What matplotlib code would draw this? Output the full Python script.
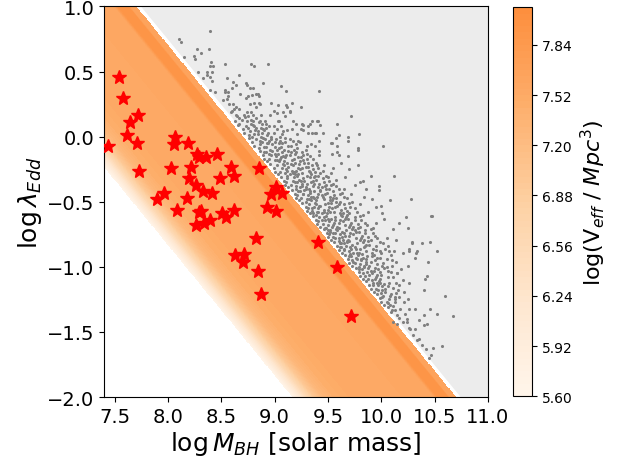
import numpy as np
import matplotlib
matplotlib.use("Agg")
import matplotlib.pyplot as plt
from matplotlib.colors import ListedColormap

# profile of log V_eff along log M_BH + log lambda_Edd
s_prof = [7.17, 7.24, 7.31, 7.38, 7.46, 7.56, 7.70, 8.20, 8.50, 8.53, 8.62, 8.635, 8.70]
v_prof = [5.62, 6.10, 6.60, 7.00, 7.30, 7.45, 7.52, 7.56, 7.60, 7.92, 7.96, 7.66, 7.64]
gray_edge = 8.745

cbar_ticks = [5.60, 5.92, 6.24, 6.56, 6.88, 7.20, 7.52, 7.84]

# red stars
star_m = [7.44, 7.54, 7.58, 7.72, 7.64, 7.62, 7.71, 7.73, 8.07, 8.06, 8.19, 8.27, 8.29, 8.36,
          8.46, 8.03, 8.22, 8.20, 8.26, 8.49, 8.59, 8.62, 8.85, 8.33, 8.41, 7.96, 7.90, 8.18,
          8.08, 8.29, 8.31, 8.51, 8.54, 8.62, 8.26, 8.34, 8.39, 8.93, 9.01, 8.97, 9.01, 9.07,
          8.83, 8.63, 8.71, 8.70, 8.84, 8.87, 9.41, 9.59, 9.72]
star_l = [-0.07, 0.46, 0.30, 0.17, 0.11, 0.01, -0.05, -0.26, 0.00, -0.06, -0.05, -0.13, -0.16, -0.16,
          -0.13, -0.24, -0.23, -0.32, -0.37, -0.32, -0.23, -0.30, -0.24, -0.42, -0.43, -0.43, -0.48, -0.47,
          -0.56, -0.58, -0.57, -0.59, -0.62, -0.56, -0.68, -0.66, -0.64, -0.54, -0.57, -0.44, -0.39, -0.43,
          -0.78, -0.91, -0.90, -0.96, -1.03, -1.21, -0.81, -1.00, -1.38]

# gray catalogue points (log M_BH, log lambda)
field_sparse = [
    (8.39, 0.81), (8.10, 0.75), (8.12, 0.73), (8.27, 0.67), (8.38, 0.67), (8.31, 0.64), (8.24, 0.62),
    (8.15, 0.61), (8.25, 0.60), (8.40, 0.57), (8.39, 0.54), (8.42, 0.54), (8.41, 0.50), (8.37, 0.50),
    (8.53, 0.56), (8.78, 0.56), (8.81, 0.54), (8.94, 0.56), (8.28, 0.50), (8.37, 0.47), (8.39, 0.46),
    (8.33, 0.45), (8.41, 0.43), (8.55, 0.45), (8.67, 0.47), (8.61, 0.42), (8.64, 0.40), (8.74, 0.40),
    (8.39, 0.36), (8.44, 0.34), (8.53, 0.36), (8.56, 0.34), (8.60, 0.37), (8.80, 0.37), (8.84, 0.33),
    (8.68, 0.33), (8.73, 0.30), (8.55, 0.29), (8.73, 0.41), (8.89, 0.41), (9.06, 0.39), (8.77, 0.37),
    (8.79, 0.32), (8.83, 0.33), (8.81, 0.26), (8.85, 0.26), (8.97, 0.26), (9.03, 0.24), (9.11, 0.24),
    (9.16, 0.26), (9.25, 0.23), (9.42, 0.35), (9.11, 0.35), (9.14, 0.19), (9.08, 0.19), (8.99, 0.20),
    (8.96, 0.17), (8.87, 0.17), (8.78, 0.19), (8.75, 0.16), (8.80, 0.12), (8.85, 0.11), (8.91, 0.12),
    (9.04, 0.12), (9.06, 0.08), (9.17, 0.12), (9.20, 0.10), (9.26, 0.10), (9.33, 0.10), (9.35, 0.12),
    (9.41, 0.12), (9.59, 0.10), (9.72, 0.16), (9.40, 0.12), (9.43, 0.09), (9.27, 0.09), (9.79, 0.02),
    (9.60, 0.01), (9.69, 0.00), (9.69, -0.03), (9.42, -0.03), (9.54, -0.05), (9.59, -0.07),
    (10.02, -0.07), (9.78, -0.10), (9.54, -0.13), (9.42, -0.14), (9.34, -0.06), (9.12, 0.23),
    (9.14, 0.20), (9.02, 0.18), (9.10, 0.16), (9.03, 0.12), (9.16, 0.06), (9.27, 0.05), (9.31, 0.08),
    (9.35, 0.03), (9.39, 0.03), (8.53, 0.34), (8.56, 0.31), (8.52, 0.28), (8.57, 0.25), (8.61, 0.25),
    (8.64, 0.23), (8.67, 0.21), (8.60, 0.20), (8.64, 0.17), (8.71, 0.17), (8.74, 0.19), (8.80, 0.17),
    (8.67, 0.14), (8.74, 0.12), (8.78, 0.10), (8.83, 0.07), (8.88, 0.10), (8.92, 0.07), (8.67, 0.10),
    (8.63, 0.12), (8.83, 0.23), (8.86, 0.25), (8.77, 0.25), (8.75, 0.31), (8.85, 0.31),
    (9.25, 0.06), (9.21, 0.02), (9.31, 0.03), (9.38, 0.03), (9.45, 0.03), (9.53, -0.05), (9.58, -0.01),
    (9.78, -0.09), (9.69, -0.15), (9.59, -0.12), (9.42, -0.11), (9.38, -0.07), (9.30, -0.07),
    (9.24, -0.04), (9.78, -0.22), (9.90, -0.30), (10.12, -0.30), (9.98, -0.38), (9.98, -0.41),
    (9.91, -0.48), (10.08, -0.49), (10.28, -0.48), (10.01, -0.59), (10.03, -0.63), (10.17, -0.66),
    (10.23, -0.62), (10.25, -0.70), (10.11, -0.71), (10.14, -0.79), (10.29, -0.81), (10.06, -0.84),
    (10.26, -0.86), (10.33, -0.89), (10.20, -0.89), (9.80, -0.35), (9.86, -0.40), (9.83, -0.34),
    (9.95, -0.54), (10.00, -0.53), (10.46, -0.81), (10.52, -0.88), (10.38, -0.82), (10.29, -0.82),
    (10.34, -0.88), (10.26, -0.88), (10.44, -0.96), (10.32, -0.93), (10.25, -0.99), (10.43, -1.07),
    (10.41, -1.09), (10.26, -1.12), (10.40, -1.18), (10.60, -1.22), (10.16, -1.18), (10.21, -1.27),
    (10.08, -1.29), (10.13, -1.23), (10.26, -1.32), (10.32, -1.32), (10.46, -1.32), (10.52, -1.36),
    (10.67, -1.38), (10.35, -1.41), (10.40, -1.37), (10.24, -1.42), (10.43, -1.44), (10.40, -1.45),
    (10.26, -1.47), (10.32, -1.48), (10.35, -1.55), (10.49, -1.62), (10.57, -1.61), (10.47, -1.68),
    (10.45, -1.70), (10.48, -0.61), (10.47, -0.61), (9.62, -0.20), (9.70, -0.25), (9.66, -0.31),
    (9.75, -0.37), (9.72, -0.44), (9.84, -0.46), (9.60, -0.14), (9.55, -0.24), (9.58, -0.33),
    (9.65, -0.40), (9.88, -0.58), (9.80, -0.52), (9.95, -0.66), (9.92, -0.74), (10.05, -0.78),
    (9.99, -0.88), (10.10, -0.95), (10.05, -1.00), (10.15, -1.05), (10.20, -1.10), (10.12, -0.88),
]

field_dense = [
    (8.66, 0.09), (8.70, 0.06), (8.73, 0.08), (8.77, 0.04), (8.80, 0.09), (8.84, 0.02), (8.87, 0.07),
    (8.90, 0.05), (8.93, 0.01), (8.95, 0.08), (8.99, 0.03), (9.02, 0.06), (8.76, 0.01), (8.82, 0.05),
    (9.07, 0.02), (8.79, 0.00), (8.88, 0.03), (9.12, 0.05), (8.71, 0.03), (8.97, 0.00),
    (8.76, -0.01), (8.79, -0.04), (8.83, -0.02), (8.86, -0.06), (8.89, -0.01), (8.92, -0.08),
    (8.95, -0.03), (8.98, -0.06), (9.01, -0.02), (9.04, -0.09), (9.07, -0.05), (9.10, -0.01),
    (9.13, -0.07), (9.17, -0.03), (8.85, -0.09), (8.81, -0.07), (8.94, -0.05), (9.00, -0.08),
    (9.20, -0.06), (8.88, -0.04), (9.05, -0.03), (8.91, -0.02),
    (8.86, -0.11), (8.89, -0.14), (8.92, -0.12), (8.95, -0.17), (8.98, -0.11), (9.01, -0.15),
    (9.04, -0.19), (9.07, -0.12), (9.10, -0.16), (9.13, -0.11), (9.16, -0.18), (9.19, -0.13),
    (9.22, -0.16), (9.26, -0.12), (8.93, -0.19), (8.97, -0.14), (9.03, -0.13), (9.09, -0.19),
    (9.14, -0.14), (9.00, -0.18), (9.30, -0.17), (8.90, -0.17), (9.06, -0.16), (9.18, -0.10),
    (9.24, -0.19),
    (8.96, -0.21), (8.99, -0.24), (9.02, -0.22), (9.05, -0.27), (9.08, -0.21), (9.11, -0.25),
    (9.14, -0.29), (9.17, -0.22), (9.20, -0.26), (9.23, -0.21), (9.26, -0.28), (9.29, -0.23),
    (9.32, -0.26), (9.35, -0.22), (9.03, -0.29), (9.07, -0.24), (9.13, -0.23), (9.19, -0.29),
    (9.24, -0.25), (9.10, -0.28), (9.38, -0.27), (9.00, -0.27), (9.16, -0.26), (9.28, -0.20),
    (9.34, -0.29), (9.41, -0.24),
    (9.06, -0.31), (9.09, -0.34), (9.12, -0.32), (9.15, -0.37), (9.18, -0.31), (9.21, -0.35),
    (9.24, -0.39), (9.27, -0.32), (9.30, -0.36), (9.33, -0.31), (9.36, -0.38), (9.39, -0.33),
    (9.42, -0.36), (9.45, -0.32), (9.13, -0.39), (9.17, -0.34), (9.23, -0.33), (9.29, -0.39),
    (9.34, -0.35), (9.20, -0.38), (9.48, -0.37), (9.10, -0.37), (9.26, -0.36), (9.38, -0.30),
    (9.44, -0.39), (9.51, -0.34), (9.11, -0.35),
    (9.16, -0.41), (9.19, -0.44), (9.22, -0.42), (9.25, -0.47), (9.28, -0.41), (9.31, -0.45),
    (9.34, -0.49), (9.37, -0.42), (9.40, -0.46), (9.43, -0.41), (9.46, -0.48), (9.49, -0.43),
    (9.52, -0.46), (9.55, -0.42), (9.23, -0.49), (9.27, -0.44), (9.33, -0.43), (9.39, -0.49),
    (9.44, -0.45), (9.30, -0.48), (9.58, -0.47), (9.20, -0.47), (9.36, -0.46), (9.48, -0.40),
    (9.54, -0.49), (9.61, -0.44), (9.21, -0.45), (9.41, -0.44),
    (9.26, -0.51), (9.29, -0.54), (9.32, -0.52), (9.35, -0.57), (9.38, -0.51), (9.41, -0.55),
    (9.44, -0.59), (9.47, -0.52), (9.50, -0.56), (9.53, -0.51), (9.56, -0.58), (9.59, -0.53),
    (9.62, -0.56), (9.65, -0.52), (9.33, -0.59), (9.37, -0.54), (9.43, -0.53), (9.49, -0.59),
    (9.54, -0.55), (9.40, -0.58), (9.68, -0.57), (9.30, -0.57), (9.46, -0.56), (9.58, -0.50),
    (9.64, -0.59), (9.71, -0.54), (9.31, -0.55), (9.51, -0.54),
    (9.36, -0.61), (9.39, -0.64), (9.42, -0.62), (9.45, -0.67), (9.48, -0.61), (9.51, -0.65),
    (9.54, -0.69), (9.57, -0.62), (9.60, -0.66), (9.63, -0.61), (9.66, -0.68), (9.69, -0.63),
    (9.72, -0.66), (9.75, -0.62), (9.43, -0.69), (9.47, -0.64), (9.53, -0.63), (9.59, -0.69),
    (9.64, -0.65), (9.50, -0.68), (9.78, -0.67), (9.40, -0.67), (9.56, -0.66), (9.68, -0.60),
    (9.74, -0.69), (9.81, -0.64), (9.41, -0.65), (9.61, -0.64),
    (9.46, -0.71), (9.49, -0.74), (9.52, -0.72), (9.55, -0.77), (9.58, -0.71), (9.61, -0.75),
    (9.64, -0.79), (9.67, -0.72), (9.70, -0.76), (9.73, -0.71), (9.76, -0.78), (9.79, -0.73),
    (9.82, -0.76), (9.85, -0.72), (9.53, -0.79), (9.57, -0.74), (9.63, -0.73), (9.69, -0.79),
    (9.74, -0.75), (9.60, -0.78), (9.88, -0.77), (9.50, -0.77), (9.66, -0.76), (9.78, -0.70),
    (9.84, -0.79), (9.51, -0.75), (9.71, -0.74),
    (9.56, -0.81), (9.59, -0.84), (9.62, -0.82), (9.65, -0.87), (9.68, -0.81), (9.71, -0.85),
    (9.74, -0.89), (9.77, -0.82), (9.80, -0.86), (9.83, -0.81), (9.86, -0.88), (9.89, -0.83),
    (9.92, -0.86), (9.63, -0.89), (9.67, -0.84), (9.73, -0.83), (9.79, -0.89), (9.84, -0.85),
    (9.70, -0.88), (9.95, -0.87), (9.60, -0.87), (9.76, -0.86), (9.88, -0.80), (9.61, -0.85),
    (9.66, -0.91), (9.69, -0.94), (9.72, -0.92), (9.75, -0.97), (9.78, -0.91), (9.81, -0.95),
    (9.84, -0.99), (9.87, -0.92), (9.90, -0.96), (9.93, -0.91), (9.96, -0.98), (9.99, -0.93),
    (9.73, -0.99), (9.77, -0.94), (9.83, -0.93), (9.89, -0.99), (9.94, -0.95), (9.80, -0.98),
    (10.02, -0.97), (9.70, -0.97), (9.86, -0.96),
    (9.76, -1.01), (9.79, -1.04), (9.82, -1.02), (9.85, -1.07), (9.88, -1.01), (9.91, -1.05),
    (9.94, -1.09), (9.97, -1.02), (10.00, -1.06), (10.03, -1.01), (10.06, -1.08), (9.83, -1.09),
    (9.87, -1.04), (9.93, -1.03), (9.99, -1.09), (9.80, -1.07), (9.96, -1.06), (10.09, -1.04),
    (9.86, -1.11), (9.89, -1.14), (9.92, -1.12), (9.95, -1.17), (9.98, -1.11), (10.01, -1.15),
    (10.04, -1.19), (10.07, -1.12), (10.11, -1.16), (9.93, -1.19), (9.97, -1.14), (10.03, -1.13),
    (9.90, -1.17), (10.14, -1.12),
    (9.96, -1.21), (9.99, -1.24), (10.02, -1.22), (10.05, -1.27), (10.09, -1.21), (10.13, -1.25),
    (10.03, -1.29), (10.17, -1.23), (10.00, -1.27),
    (10.06, -1.31), (10.09, -1.35), (10.13, -1.33), (10.17, -1.39), (10.11, -1.42), (10.22, -1.36),
    (10.15, -1.44),
]

# points hugging the selection line, where the catalogue is densest
field_edge = [
    (8.59, 0.19), (8.62, 0.21), (8.65, 0.16), (8.69, 0.13), (8.72, 0.15), (8.75, 0.07), (8.78, 0.13),
    (8.81, 0.02), (8.84, 0.04), (8.86, -0.03), (8.89, 0.06), (8.90, -0.08), (8.93, -0.05), (8.96, -0.10),
    (8.97, -0.02), (9.00, -0.13), (9.02, -0.10), (9.05, -0.17), (9.06, -0.08), (9.09, -0.22),
    (9.11, -0.14), (9.12, -0.26), (9.15, -0.21), (9.18, -0.27), (9.19, -0.35), (9.21, -0.30),
    (9.24, -0.42), (9.25, -0.34), (9.27, -0.44), (9.29, -0.40), (9.32, -0.48), (9.33, -0.42),
    (9.35, -0.55), (9.37, -0.47), (9.39, -0.60), (9.42, -0.53), (9.44, -0.64), (9.46, -0.58),
    (9.48, -0.70), (9.50, -0.63), (9.52, -0.73), (9.55, -0.68), (9.57, -0.78), (9.59, -0.72),
    (9.61, -0.82), (9.63, -0.77), (9.65, -0.86), (9.68, -0.80), (9.70, -0.92), (9.72, -0.86),
    (9.74, -0.96), (9.77, -0.89), (9.79, -1.00), (9.81, -0.94), (9.83, -1.05), (9.86, -0.98),
    (9.88, -1.09), (9.90, -1.03), (9.92, -1.14), (9.95, -1.08), (9.97, -1.18), (9.99, -1.12),
    (10.01, -1.23), (10.04, -1.17), (10.06, -1.28), (10.08, -1.22), (10.10, -1.33), (10.13, -1.27),
    (10.15, -1.37), (10.18, -1.32), (10.20, -1.42), (10.24, -1.40), (10.27, -1.48), (10.30, -1.52),
    (10.34, -1.56), (10.38, -1.60), (10.42, -1.63),
    (8.83, 0.14), (8.92, 0.10), (8.99, 0.08), (9.05, 0.00), (9.10, -0.04), (9.15, -0.07), (9.21, -0.09),
    (9.19, -0.20), (9.27, -0.14), (9.26, -0.24), (9.31, -0.20), (9.30, -0.30), (9.36, -0.25),
    (9.36, -0.34), (9.41, -0.30), (9.41, -0.39), (9.46, -0.35), (9.47, -0.44), (9.51, -0.40),
    (9.52, -0.49), (9.56, -0.45), (9.57, -0.54), (9.61, -0.50), (9.61, -0.59), (9.66, -0.55),
    (9.66, -0.63), (9.70, -0.59), (9.71, -0.68), (9.75, -0.64), (9.76, -0.73), (9.80, -0.69),
    (9.81, -0.78), (9.85, -0.74), (9.86, -0.83), (9.90, -0.79), (9.91, -0.89), (9.95, -0.84),
    (9.96, -0.93), (10.00, -0.89), (10.01, -0.99), (10.05, -0.94), (10.06, -1.03), (10.10, -0.99),
    (10.11, -1.08), (10.15, -1.05), (10.17, -1.14), (10.21, -1.19), (10.25, -1.25), (9.14, -0.02),
    (9.08, 0.04), (9.22, -0.03), (9.29, -0.10), (9.33, -0.15), (9.39, -0.20), (9.45, -0.26),
    (9.50, -0.31), (9.55, -0.36), (9.60, -0.40), (9.65, -0.46), (9.70, -0.51), (9.75, -0.55),
    (9.80, -0.61), (9.85, -0.66), (9.90, -0.71), (9.94, -0.76), (9.99, -0.81), (10.04, -0.86),
    (10.09, -0.91), (10.14, -0.96), (10.19, -1.02),
]

# extra points in the crowded core of the cloud
field_core = [
    (9.02, -0.18), (9.08, -0.15), (9.12, -0.20), (9.18, -0.17), (9.22, -0.24), (9.27, -0.18),
    (9.31, -0.23), (9.12, -0.30), (9.17, -0.28), (9.22, -0.29), (9.28, -0.34), (9.33, -0.27),
    (9.37, -0.31), (9.43, -0.28), (9.20, -0.40), (9.26, -0.38), (9.32, -0.40), (9.37, -0.36),
    (9.43, -0.42), (9.47, -0.38), (9.53, -0.37), (9.29, -0.50), (9.34, -0.46), (9.39, -0.52),
    (9.45, -0.46), (9.50, -0.51), (9.55, -0.47), (9.60, -0.52), (9.36, -0.59), (9.41, -0.58),
    (9.46, -0.62), (9.52, -0.58), (9.57, -0.64), (9.62, -0.60), (9.67, -0.62), (9.47, -0.70),
    (9.50, -0.72), (9.55, -0.74), (9.60, -0.70), (9.65, -0.74), (9.70, -0.69), (9.75, -0.72),
    (9.62, -0.85), (9.60, -0.80), (9.65, -0.82), (9.70, -0.80), (9.75, -0.85), (9.80, -0.79),
    (9.85, -0.84), (9.73, -0.95), (9.71, -0.90), (9.76, -0.93), (9.82, -0.90), (9.86, -0.94),
    (9.91, -0.92), (9.79, -1.02), (9.84, -1.00), (9.89, -1.06), (9.94, -1.01), (9.99, -1.04),
    (9.91, -1.10), (9.96, -1.12), (10.01, -1.18), (10.06, -1.15), (10.00, -1.20), (10.07, -1.25),
    (10.11, -1.30), (10.14, -1.20), (8.95, -0.13), (9.00, -0.04), (8.90, -0.12), (8.87, 0.00),
    (8.81, 0.08), (8.86, 0.12), (8.94, 0.03), (9.04, -0.05), (9.09, -0.10), (9.15, -0.12),
    (9.20, -0.12), (9.25, -0.16), (9.30, -0.13), (9.36, -0.17), (9.40, -0.22), (9.46, -0.22),
    (9.48, -0.30), (9.53, -0.28), (9.58, -0.38), (9.63, -0.43), (9.68, -0.47), (9.73, -0.50),
    (9.77, -0.58), (9.83, -0.60), (9.87, -0.68), (9.92, -0.70), (9.96, -0.78), (10.02, -0.82),
    (10.07, -0.88),
]

# truncated Oranges map, as the colour bar only reaches mid orange
cmap = ListedColormap(plt.cm.Oranges(np.linspace(0.0, 0.5, 256)))
levels = np.linspace(5.6, 8.08, 63)

fig = plt.figure(figsize=(6.23, 4.64), dpi=100)
ax = fig.add_axes([0.167, 0.142, 0.616, 0.842])
cax = fig.add_axes([0.823, 0.144, 0.031, 0.838])

xg = np.linspace(7.4, 11.0, 500)
yg = np.linspace(-2.0, 1.0, 400)
X, Y = np.meshgrid(xg, yg)
V = np.interp(X + Y, s_prof, v_prof, left=np.nan, right=np.nan)
cs = ax.contourf(X, Y, V, levels=levels, cmap=cmap)

# excluded region above the selection line
edge = np.clip(gray_edge - xg, -2.0, 1.0)
ax.fill_between(xg, edge, 1.0, color="#ececec", lw=0, zorder=1)

pts = np.array(field_sparse + field_dense + field_edge + field_core)
ax.scatter(pts[:, 0], pts[:, 1], s=5, c="gray", lw=0, zorder=2)
ax.plot(star_m, star_l, ls="none", marker="*", color="red", markersize=10.5, zorder=3)

ax.set_xlim(7.4, 11.0)
ax.set_ylim(-2.0, 1.0)
ax.set_xticks(np.arange(7.5, 11.01, 0.5))
ax.set_yticks(np.arange(-2.0, 1.01, 0.5))
ax.tick_params(labelsize=14)
ax.set_xlabel(r"$\log M_{BH}$ [solar mass]", fontsize=18, labelpad=2)
ax.set_ylabel(r"$\log\lambda_{Edd}$", fontsize=18, labelpad=2)

cb = fig.colorbar(cs, cax=cax, ticks=cbar_ticks)
cb.ax.set_yticklabels(["%.2f" % t for t in cbar_ticks])
cb.ax.tick_params(labelsize=10)
cb.set_label(r"log(V$_{eff}$ / $Mpc^3$)", fontsize=16)

fig.savefig("out.png", dpi=100)
